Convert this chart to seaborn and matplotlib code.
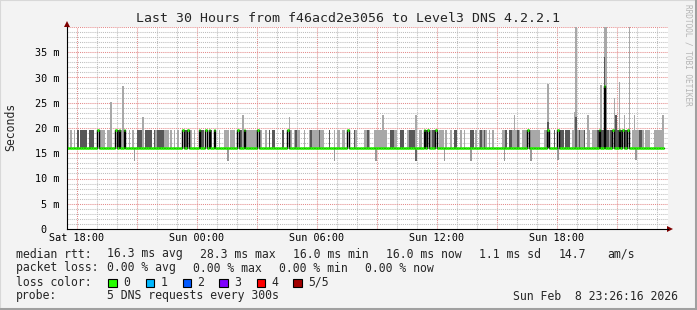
import numpy as np
import pandas as pd
import matplotlib
matplotlib.use("Agg")
import matplotlib.pyplot as plt
import seaborn as sns
from matplotlib.ticker import MultipleLocator, FuncFormatter
from matplotlib.patches import Rectangle

# ---------------- data ----------------
start_hour = 17.5            # Sat 17:30, hours counted from Sat 00:00
step_hours = 5 / 60          # 300 s step
n_steps = 358
base_rtt = 16.0              # ms, median most of the time
smoke_top = 19.6             # ms, usual top of the smoke bars

light_steps = [0, 2, 4, 19, 20, 21, 22, 24, 25, 26, 32, 37, 39, 45, 53, 58, 59, 60, 62, 64, 66,
               74, 76, 91, 94, 95, 96, 98, 99, 100, 105, 107, 108, 109, 110, 111, 112, 113, 116, 119,
               134, 136, 138, 139, 142, 145, 147, 148, 149, 150, 152, 153, 160, 162, 163, 165, 166,
               173, 178, 179, 181, 184, 185, 186, 187, 188, 189, 190, 191, 196, 197, 204, 211, 212,
               218, 223, 224, 225, 227, 230, 236, 238, 245, 247, 249, 251, 253, 255, 261, 262, 267,
               268, 269, 271, 273, 274, 275, 278, 279, 280, 281, 282, 283, 286, 287,
               303, 304, 305, 306, 308, 309, 312, 313, 315, 316, 317, 325, 328, 329, 334, 339, 340,
               341, 342, 345, 347, 348, 349, 352, 353, 354, 355, 356, 357]
dark_steps = [6, 8, 9, 10, 11, 13, 14, 15, 30, 42, 43, 44, 47, 48, 49, 50, 52, 54, 55, 56, 57, 71,
              80, 81, 86, 103, 104, 121, 123, 124, 129, 137, 146, 151, 157, 172, 180, 194, 195,
              200, 201, 205, 206, 207, 208, 215, 219, 220, 232, 233, 242, 243, 248, 250, 263, 265,
              266, 270, 288, 292, 296, 297, 299, 300, 301, 307, 310, 318, 320, 321, 323, 324, 326,
              330, 332, 335, 343, 344]

median_up_steps = [18, 29, 31, 34, 69, 72, 79, 83, 85, 88, 102, 106, 114, 132, 168, 214, 216, 221,
                   276, 288, 294, 319, 322, 327, 331, 333, 336]
median_up_vals = [19.6, 19.6, 19.6, 19.6, 19.6, 19.6, 19.6, 19.6, 19.6, 19.6, 19.6, 19.6, 19.6,
                  19.6, 19.6, 19.6, 19.6, 19.6, 19.6, 19.6, 19.6, 19.6, 28.3, 19.6, 19.6, 19.6, 19.6]

spike_steps = [26, 33, 45, 105, 133, 189, 209, 268, 288, 288, 304, 305, 305, 312, 320, 322, 322,
               323, 328, 329, 331, 334, 337, 340, 357]
spike_tops = [25.1, 28.3, 22.2, 22.5, 22.2, 22.5, 22.5, 22.5, 28.8, 21.2, 23.2, 40.0, 22.2, 22.5,
              28.5, 40.0, 34.1, 40.0, 25.9, 22.5, 29.1, 22.5, 40.0, 22.5, 22.5]
spike_dark = [0, 0, 0, 0, 0, 0, 0, 0, 0, 1, 0, 0, 1, 0,
              0, 0, 1, 0, 0, 1, 0, 0, 0, 0, 0]

dip_steps = [40, 96, 160, 185, 209, 226, 242, 262, 278, 294, 341]
dip_bottoms = [13.4, 13.4, 13.4, 13.4, 13.4, 13.4, 13.4, 13.4, 13.4, 13.6, 13.6]
dip_dark = [0, 0, 0, 0, 1, 0, 0, 0, 0, 0, 0]

tick_hours = [18, 24, 30, 36, 42]
tick_labels = ["Sat 18:00", "Sun 00:00", "Sun 06:00", "Sun 12:00", "Sun 18:00"]
y_ticks = [0, 5, 10, 15, 20, 25, 30, 35]
y_tick_labels = ["0  ", "5 m", "10 m", "15 m", "20 m", "25 m", "30 m", "35 m"]

title = "Last 30 Hours from f46acd2e3056 to Level3 DNS 4.2.2.1"
loss_labels = ["0", "1", "2", "3", "4", "5/5"]
loss_colors = ["#26ff00", "#00b8ff", "#0059ff", "#7e00ff", "#ff0000", "#a10000"]

# ---------------- derived tables ----------------
t = start_hour + np.arange(n_steps) * step_hours
median = np.full(n_steps, base_rtt)
median[median_up_steps] = median_up_vals
df_med = pd.DataFrame({"t": np.append(t, t[-1] + step_hours),
                       "median": np.append(median, median[-1])})

LIGHT = "#a8a8a8"
DARK = "#585858"
MONO = "DejaVu Sans Mono"
W, H = 697, 310

sns.set_style("white")
plt.rcParams["font.family"] = [MONO, "DejaVu Sans"]

fig = plt.figure(figsize=(W / 100, H / 100), dpi=100, facecolor="#f3f3f3")
ax = fig.add_axes([67 / W, 1 - 229 / H, 601 / W, 202 / H], facecolor="white")

# smoke
sp_t = np.array([t[i] for i in spike_steps])
sp_top = np.array(spike_tops)
sp_dark = np.array(spike_dark, dtype=bool)
ax.bar(t[light_steps], smoke_top - base_rtt, bottom=base_rtt, width=step_hours, align="edge",
       color=LIGHT, linewidth=0)
ax.bar(sp_t[~sp_dark], sp_top[~sp_dark] - base_rtt, bottom=base_rtt, width=step_hours,
       align="edge", color=LIGHT, linewidth=0)
ax.bar(t[dark_steps], smoke_top - base_rtt, bottom=base_rtt, width=step_hours, align="edge",
       color=DARK, linewidth=0)
ax.bar(sp_t[sp_dark], sp_top[sp_dark] - base_rtt, bottom=base_rtt, width=step_hours,
       align="edge", color=DARK, linewidth=0)
dp_dark = np.array(dip_dark, dtype=bool)
dp_t = t[dip_steps]
dp_b = np.array(dip_bottoms)
ax.bar(dp_t[~dp_dark], base_rtt - dp_b[~dp_dark], bottom=dp_b[~dp_dark], width=step_hours,
       align="edge", color="#999999", linewidth=0)
ax.bar(dp_t[dp_dark], base_rtt - dp_b[dp_dark], bottom=dp_b[dp_dark], width=step_hours,
       align="edge", color="#666666", linewidth=0)

# median line: black step connectors, green level segments
sns.lineplot(data=df_med, x="t", y="median", drawstyle="steps-post", color="black",
             linewidth=1.0, ax=ax, legend=False)
ax.hlines(median, t, t + step_hours, color=loss_colors[0], linewidth=1.9, capstyle="butt")

# axes / grid
ax.set_xlim(start_hour, start_hour + 601 / 20)
ax.set_ylim(0, 40)
ax.xaxis.set_major_locator(MultipleLocator(3))
ax.xaxis.set_minor_locator(MultipleLocator(1))
ax.yaxis.set_major_locator(MultipleLocator(5))
ax.yaxis.set_minor_locator(MultipleLocator(1))
lab_map = dict(zip(tick_hours, tick_labels))
ax.xaxis.set_major_formatter(FuncFormatter(lambda v, p: lab_map.get(int(round(v)), "")))
ylab_map = dict(zip(y_ticks, y_tick_labels))
ax.yaxis.set_major_formatter(FuncFormatter(lambda v, p: ylab_map.get(int(round(v)), "")))
ax.set_axisbelow(True)
ax.grid(which="minor", color="#bdbdbd", linestyle=(0, (1, 1)), linewidth=0.75)
ax.grid(which="major", color="#e38a8a", linestyle=(0, (1, 1)), linewidth=0.75)
for s in ["top", "right"]:
    ax.spines[s].set_visible(False)
for s in ["left", "bottom"]:
    ax.spines[s].set_color("black")
    ax.spines[s].set_linewidth(0.8)
ax.tick_params(axis="y", which="major", length=2.5, width=0.6, color="#e38a8a", pad=3,
               labelsize=7.3, labelcolor="black")
ax.tick_params(axis="x", which="major", length=1.5, width=0.6, color="#e38a8a", pad=1.6,
               labelsize=7.3, labelcolor="black")
ax.tick_params(which="minor", length=1.5, width=0.6, color="#bdbdbd")
for lab in ax.get_xticklabels() + ax.get_yticklabels():
    lab.set_family(MONO)
ax.set_xlabel("")
ax.set_ylabel("")

# axis arrows
ax.plot([1.004], [0], transform=ax.transAxes, marker=">", ms=4.5, color="#7f0000",
        clip_on=False, mew=0)
ax.plot([0], [1.015], transform=ax.transAxes, marker="^", ms=4.5, color="#7f0000",
        clip_on=False, mew=0)


def ftext(x, y, s, **kw):
    kw.setdefault("fontsize", 8.3)
    kw.setdefault("family", MONO)
    kw.setdefault("va", "center")
    kw.setdefault("ha", "left")
    fig.text(x / W, 1 - y / H, s, **kw)


ftext(348.5, 19, title, ha="center", fontsize=9.5)
ftext(11, 127, "Seconds", rotation=90, ha="center")
ftext(688, 4, "RRDTOOL / TOBI OETIKER", rotation=270, ha="center", va="top",
      fontsize=5.6, color="#b5b5b5")

row1 = [(16, "median rtt:"), (107.3, "16.3 ms avg"), (200, "28.3 ms max"), (293.3, "16.0 ms min"),
        (386, "16.0 ms now"), (479.3, "1.1 ms sd"), (558.3, "14.7"), (607.3, "am/s")]
for x, s in row1:
    ftext(x, 254, s)
row2 = [(16, "packet loss:"), (107.3, "0.00 % avg"), (193.3, "0.00 % max"), (279.3, "0.00 % min"),
        (365, "0.00 % now")]
for x, s in row2:
    ftext(x, 268, s)
ftext(16, 282, "loss color:")
box_x = [108.3, 145.7, 182.7, 219.3, 256.7, 293.3]
for bx, lab, col in zip(box_x, loss_labels, loss_colors):
    fig.add_artist(Rectangle((bx / W, 1 - 287 / H), 8.3 / W, 8.3 / H, transform=fig.transFigure,
                             facecolor=col, edgecolor="black", linewidth=0.8))
    ftext(bx + 14.5, 282, lab)
ftext(16, 296, "probe:")
ftext(107.3, 296, "5 DNS requests every 300s")
ftext(513.3, 296, "Sun Feb  8 23:26:16 2026")

# outer 3D frame
fig.add_artist(Rectangle((0, 0), 1, 1, transform=fig.transFigure, fill=False,
                         edgecolor="#d8d8d8", linewidth=1.5))
fig.add_artist(plt.Line2D([1 - 1.5 / W, 1 - 1.5 / W], [0, 1], transform=fig.transFigure,
                          color="#a0a0a0", linewidth=2.2))
fig.add_artist(plt.Line2D([0, 1], [1.5 / H, 1.5 / H], transform=fig.transFigure,
                          color="#a0a0a0", linewidth=2.2))

fig.savefig("out.png", dpi=100, facecolor=fig.get_facecolor())
